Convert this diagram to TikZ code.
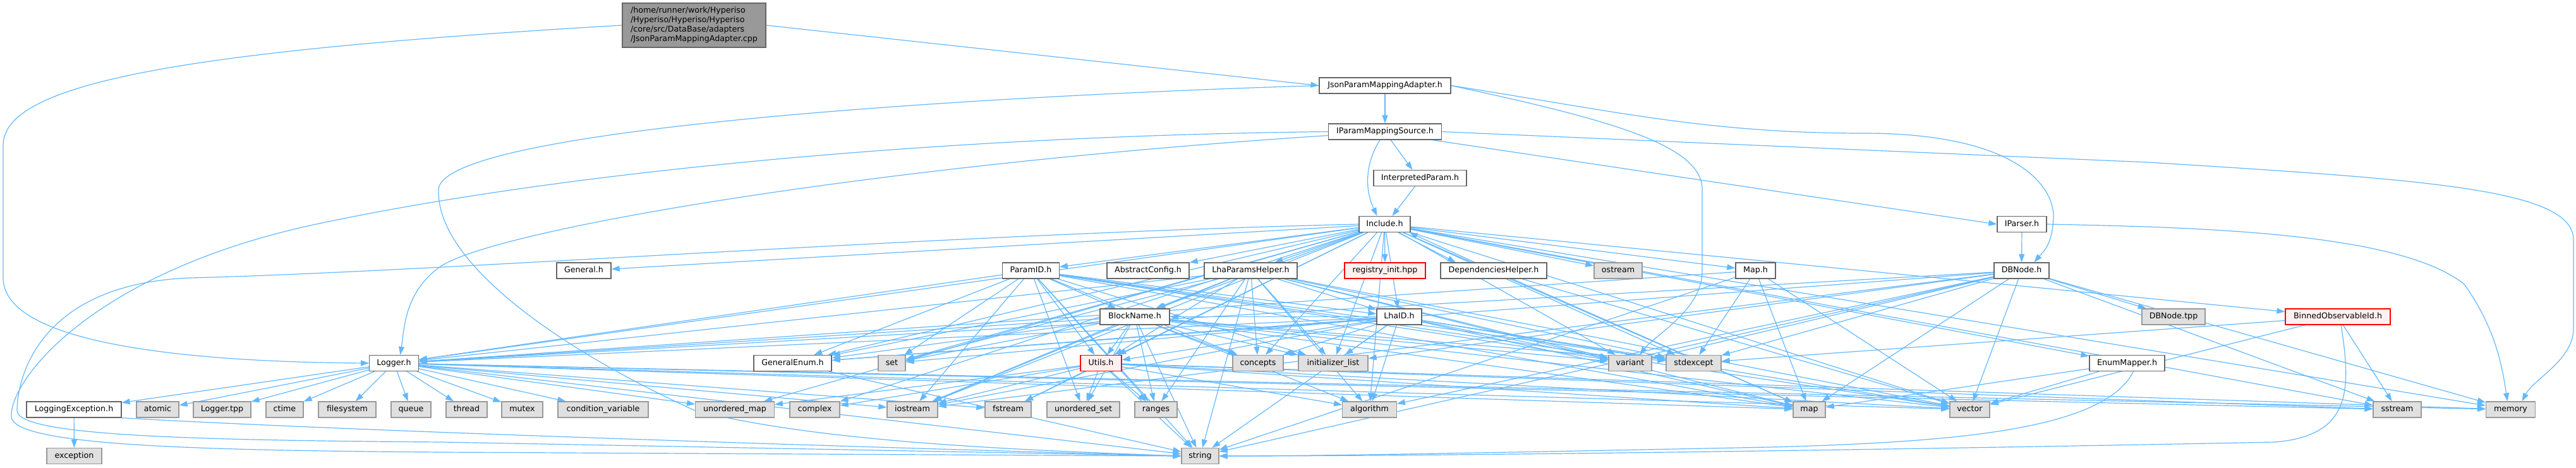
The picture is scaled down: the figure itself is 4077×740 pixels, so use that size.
\documentclass[tikz,border=0pt]{standalone}
\usepackage{fontspec}
\setmainfont{DejaVu Sans}
\usetikzlibrary{arrows.meta,calc}
\definecolor{edgec}{HTML}{63B8FF}
\definecolor{boxborder}{HTML}{666666}
\definecolor{sysborder}{HTML}{999999}
\definecolor{sysfill}{HTML}{E0E0E0}
\definecolor{redfill}{HTML}{FFF0F0}
\definecolor{rootfill}{HTML}{999999}
\pgfdeclarelayer{bg}
\pgfsetlayers{bg,main}
\begin{document}
\begin{tikzpicture}[x=1pt,y=-1pt,
  every node/.style={font=\fontsize{12.65}{15}\selectfont, inner sep=0pt, minimum height=25pt, line width=1.3pt, text height=9.5pt, text depth=2.7pt},
  fb/.style={draw=boxborder, fill=white},
  sb/.style={draw=sysborder, fill=sysfill},
  rb/.style={draw=red, fill=redfill},
  rootbox/.style={draw=boxborder, fill=rootfill, align=left, text height=, text depth=, minimum height=70pt},
  edge/.style={draw=edgec, line width=1.2pt, -{Triangle[length=13pt,width=9pt]}}
]
\useasboundingbox (0,0) rectangle (4077,740);

% row 0
\node[rootbox, minimum width=227pt] (root) at (1098.5,40) {/home/runner/work/Hyperiso\\/Hyperiso/Hyperiso/Hyperiso\\/core/src/DataBase/adapters\\/JsonParamMappingAdapter.cpp};
% rows 1-4
\node[fb, minimum width=208pt] (jpma) at (2192,135.5) {JsonParamMappingAdapter.h};
\node[fb, minimum width=178.5pt] (ipms) at (2192,208.5) {IParamMappingSource.h};
\node[fb, minimum width=147pt] (interp) at (2247.5,282) {InterpretedParam.h};
\node[fb, minimum width=81pt] (inc) at (2191.5,355) {Include.h};
\node[fb, minimum width=78pt] (iparser) at (3200,355) {IParser.h};
% row 5
\node[fb, minimum width=86pt] (general) at (924,428.5) {General.h};
\node[fb, minimum width=89.5pt] (paramid) at (1631.5,428.5) {ParamID.h};
\node[fb, minimum width=130pt] (abscfg) at (1817,428.5) {AbstractConfig.h};
\node[fb, minimum width=147pt] (lhaph) at (1979.5,428.5) {LhaParamsHelper.h};
\node[rb, minimum width=128pt] (reginit) at (2192,428.5) {registry\_init.hpp};
\node[fb, minimum width=168pt] (dephelp) at (2364,428.5) {DependenciesHelper.h};
\node[sb, minimum width=76pt] (ostream) at (2561,428.5) {ostream};
\node[fb, minimum width=63pt] (maph) at (2778.5,428.5) {Map.h};
\node[fb, minimum width=87pt] (dbnode) at (3199.5,428.5) {DBNode.h};
% row 6
\node[fb, minimum width=110pt] (blockname) at (1796,501.5) {BlockName.h};
\node[fb, minimum width=71pt] (lhaid) at (2214.5,501.5) {LhaID.h};
\node[sb, minimum width=100pt] (dbtpp) at (3440,501.5) {DBNode.tpp};
\node[rb, minimum width=166pt] (binned) at (3700,501.5) {BinnedObservableId.h};
% row 7
\node[fb, minimum width=77.5pt] (logger) at (623.5,575) {Logger.h};
\node[fb, minimum width=123pt] (genenum) at (1254.5,575) {GeneralEnum.h};
\node[sb, minimum width=43pt] (set) at (1411.5,575) {set};
\node[rb, minimum width=65pt] (utils) at (1742.5,575) {Utils.h};
\node[sb, minimum width=80pt] (concepts) at (1991,575) {concepts};
\node[sb, minimum width=110pt] (initlist) at (2110,575) {initializer\_list};
\node[sb, minimum width=68pt] (variant) at (2580,575) {variant};
\node[sb, minimum width=87pt] (stdexcept) at (2680.5,575) {stdexcept};
\node[fb, minimum width=119pt] (enummap) at (3366.5,575) {EnumMapper.h};
% row 8
\node[fb, minimum width=150pt] (lexc) at (117,648.5) {LoggingException.h};
\node[sb, minimum width=67pt] (atomic) at (249.5,648.5) {atomic};
\node[sb, minimum width=91pt] (loggertpp) at (351.5,648.5) {Logger.tpp};
\node[sb, minimum width=59pt] (ctime) at (450.5,648.5) {ctime};
\node[sb, minimum width=91pt] (filesystem) at (549.5,648.5) {filesystem};
\node[sb, minimum width=63pt] (queue) at (650.5,648.5) {queue};
\node[sb, minimum width=65pt] (thread) at (738.5,648.5) {thread};
\node[sb, minimum width=65pt] (mutex) at (826.5,648.5) {mutex};
\node[sb, minimum width=143pt] (condvar) at (954.5,648.5) {condition\_variable};
\node[sb, minimum width=124.5pt] (umap) at (1163,648.5) {unordered\_map};
\node[sb, minimum width=79pt] (complex) at (1289.5,648.5) {complex};
\node[sb, minimum width=80pt] (iostream) at (1444,648.5) {iostream};
\node[sb, minimum width=73pt] (fstream) at (1595.5,648.5) {fstream};
\node[sb, minimum width=115pt] (uset) at (1714.5,648.5) {unordered\_set};
\node[sb, minimum width=67pt] (ranges) at (1829.5,648.5) {ranges};
\node[sb, minimum width=85.5pt] (algorithm) at (2167.5,648.5) {algorithm};
\node[sb, minimum width=51pt] (map) at (2863.5,648.5) {map};
\node[sb, minimum width=63pt] (vector) at (3117.5,648.5) {vector};
\node[sb, minimum width=76pt] (sstream) at (3794,648.5) {sstream};
\node[sb, minimum width=78pt] (memory) at (3973.5,648.5) {memory};
% row 9
\node[sb, minimum width=87pt] (exception) at (117.5,722) {exception};
\node[sb, minimum width=59pt] (string) at (1899.5,722) {string};

\begin{pgfonlayer}{bg}
% root
\draw[edge] (root.east) -- (jpma.west);
\draw[edge] (root.west) .. controls (300,80) and (5,130) .. (5,230) -- (5,440) .. controls (5,545) and (300,573) .. (logger.west);
% JsonParamMappingAdapter.h
\draw[edge] (jpma) -- (ipms);
\draw[edge] (jpma.east) .. controls (2550,175) and (2700,211) .. (2950,211) .. controls (3200,211) and (3252,300) .. (3250,345) .. controls (3248,390) and (3232,400) .. ($(dbnode.north)+(20,0)$);
\draw[edge] (jpma.east) .. controls (2550,190) and (2694,230) .. (2694,300) -- (2694,430) .. controls (2694,490) and (2620,530) .. ($(variant.north)+(15,0)$);
\draw[edge] (jpma.west) .. controls (1600,150) and (700,200) .. (694,300) .. controls (690,420) and (900,560) .. (1100,650) .. controls (1300,700) and (1600,712) .. (string.west);
% IParamMappingSource.h
\draw[edge] ($(ipms.south)+(-8,0)$) .. controls (2160,260) and (2160,300) .. ($(inc.north)+(-12,0)$);
\draw[edge] ($(ipms.south)+(9,0)$) -- ($(interp.north)+(-12,0)$);
\draw[edge] ($(ipms.south east)+(-15,0)$) -- (iparser.west);
\draw[edge] (ipms.east) -- (3400,257) .. controls (3850,285) and (4073,300) .. (4073,380) -- (4073,520) .. controls (4073,570) and (4010,600) .. ($(memory.north)+(18,0)$);
\draw[edge] (ipms.west) .. controls (1500,215) and (900,270) .. (500,355) .. controls (150,430) and (15,600) .. (18,660) .. controls (22,705) and (300,713) .. (700,716) -- (string.west);
\draw[edge] ($(ipms.west)+(0,6)$) .. controls (1400,260) and (800,360) .. (700,420) .. controls (640,460) and (640,520) .. ($(logger.north)+(10,0)$);
% InterpretedParam.h
\draw[edge] ($(interp.south)+(-8,0)$) -- ($(inc.north)+(12,0)$);
% IParser.h
\draw[edge] (iparser) -- (dbnode);
\draw[edge] (iparser.east) .. controls (3500,360) and (3800,370) .. (3900,450) .. controls (3950,520) and (3960,580) .. ($(memory.north)+(-5,0)$);
% DependenciesHelper.h
\draw[edge] ($(dephelp.north)+(-30,0)$) -- ($(inc.south east)+(-2,0)$);
\foreach \x in {vector,map} \draw[edge] (dephelp) -- (\x);
% Include.h
\draw[edge] ($(inc.south east)+(-20,0)$) -- ($(dephelp.north)+(-60,0)$);
\foreach \x in {general,paramid,abscfg,lhaph,reginit,ostream,maph,binned,enummap,logger,genenum,blockname,lhaid,utils,set,concepts,initlist,variant,stdexcept,iostream,fstream,complex,umap,algorithm,map,vector,sstream,memory} \draw[edge] (inc) -- (\x);
\draw[edge] (inc.west) .. controls (1500,370) and (700,430) .. (300,440) .. controls (60,450) and (27,600) .. (27,650) .. controls (27,690) and (300,697) .. (700,700) -- (string.west);
% ParamID.h
\foreach \x in {logger,genenum,blockname,lhaid,utils,set,iostream,concepts,variant,stdexcept,uset,ranges,string,map,vector,initlist} \draw[edge] (paramid) -- (\x);
% LhaParamsHelper.h
\foreach \x in {logger,genenum,blockname,lhaid,utils,set,concepts,initlist,variant,stdexcept,iostream,string,map,vector,algorithm,ranges} \draw[edge] (lhaph) -- (\x);
% BlockName.h
\foreach \x in {logger,genenum,set,utils,concepts,initlist,variant,stdexcept,iostream,uset,ranges,string,map,vector,algorithm} \draw[edge] (blockname) -- (\x);
% LhaID.h
\foreach \x in {logger,genenum,blockname,utils,set,concepts,initlist,variant,stdexcept,iostream,algorithm,string,map,vector} \draw[edge] (lhaid) -- (\x);
% Utils.h
\foreach \x in {iostream,fstream,uset,ranges,string,complex,umap,map,vector,algorithm,sstream,memory} \draw[edge] (utils) -- (\x);
% Map.h
\foreach \x in {map,vector,string,logger,stdexcept} \draw[edge] (maph) -- (\x);
% DBNode.h
\foreach \x in {dbtpp,map,vector,string,memory,sstream,variant,stdexcept,logger,iostream,algorithm,initlist,genenum} \draw[edge] (dbnode) -- (\x);
% BinnedObservableId.h
\foreach \x in {sstream,stdexcept,vector} \draw[edge] (binned) -- (\x);
\draw[edge] ($(binned.south)+(5,0)$) .. controls (3722,620) and (3720,690) .. (3600,700) .. controls (3000,712) and (2300,722) .. (string.east);
% EnumMapper.h
\foreach \x in {map,vector} \draw[edge] (enummap) -- (\x);
\draw[edge] ($(enummap.south)+(10,0)$) .. controls (3330,680) and (3100,700) .. (2800,708) .. controls (2400,716) and (2100,722) .. (string.east);
% Logger.h
\foreach \x in {lexc,atomic,loggertpp,ctime,filesystem,queue,thread,mutex,condvar,umap,iostream,fstream,sstream,memory,string,vector,map} \draw[edge] (logger) -- (\x);
% LoggingException.h
\draw[edge] (lexc) -- (exception);
\draw[edge] (lexc.south east) .. controls (600,685) and (1500,712) .. (string.west);
% GeneralEnum.h
\draw[edge] (genenum) -- (string);
\end{pgfonlayer}
\end{tikzpicture}
\end{document}
